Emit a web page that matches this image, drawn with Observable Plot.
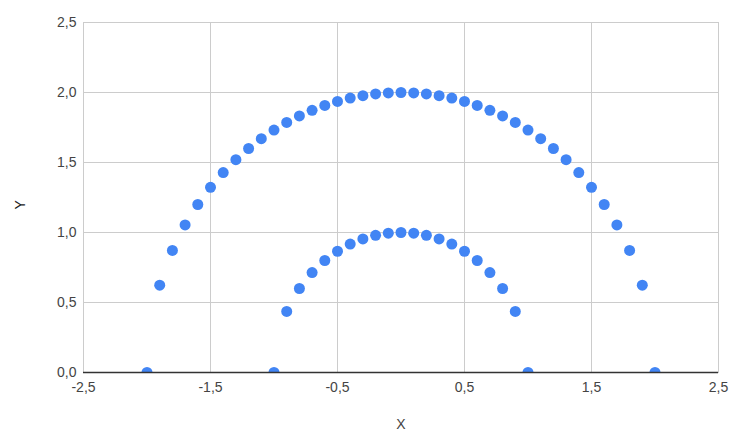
<!DOCTYPE html>
<html>
<head>
<meta charset="utf-8">
<script src="https://cdn.jsdelivr.net/npm/d3@7"></script>
<script src="https://cdn.jsdelivr.net/npm/@observablehq/plot@0.6"></script>
<style>
  body { margin: 0; background: #fff; }
  #chart { width: 738px; height: 442px; }
</style>
</head>
<body>
<div id="chart"></div>
<script>
const outerX = [-2.0,-1.9,-1.8,-1.7,-1.6,-1.5,-1.4,-1.3,-1.2,-1.1,-1.0,-0.9,-0.8,-0.7,-0.6,-0.5,-0.4,-0.3,-0.2,-0.1,0.0,0.1,0.2,0.3,0.4,0.5,0.6,0.7,0.8,0.9,1.0,1.1,1.2,1.3,1.4,1.5,1.6,1.7,1.8,1.9,2.0];
const outerY = [0,0.624,0.872,1.054,1.2,1.323,1.428,1.52,1.6,1.67,1.732,1.786,1.833,1.873,1.908,1.936,1.96,1.977,1.99,1.997,2.0,1.997,1.99,1.977,1.96,1.936,1.908,1.873,1.833,1.786,1.732,1.67,1.6,1.52,1.428,1.323,1.2,1.054,0.872,0.624,0];
const innerX = [-1.0,-0.9,-0.8,-0.7,-0.6,-0.5,-0.4,-0.3,-0.2,-0.1,0.0,0.1,0.2,0.3,0.4,0.5,0.6,0.7,0.8,0.9,1.0];
const innerY = [0,0.436,0.6,0.714,0.8,0.866,0.917,0.954,0.98,0.995,1.0,0.995,0.98,0.954,0.917,0.866,0.8,0.714,0.6,0.436,0];
const xTicks = [-2.5,-1.5,-0.5,0.5,1.5,2.5];
const yTicks = [0,0.5,1.0,1.5,2.0,2.5];
const xLabel = "X";
const yLabel = "Y";

const points = [
  ...outerX.map((x, i) => ({x, y: outerY[i]})),
  ...innerX.map((x, i) => ({x, y: innerY[i]}))
];
const fmt = d => d3.format(".1f")(d).replace(".", ",").replace("−", "-");

const chart = Plot.plot({
  width: 738,
  height: 442,
  marginLeft: 83,
  marginRight: 20,
  marginTop: 22,
  marginBottom: 70,
  style: {fontFamily: "Arial, 'Liberation Sans', sans-serif", fontSize: "14px", color: "#444", background: "#fff"},
  x: {domain: [-2.5, 2.5]},
  y: {domain: [0, 2.5]},
  marks: [
    Plot.gridX(xTicks, {stroke: "#ccc", strokeOpacity: 1}),
    Plot.gridY(yTicks, {stroke: "#ccc", strokeOpacity: 1}),
    Plot.frame({stroke: "#ccc"}),
    Plot.dot(points, {x: "x", y: "y", r: 5.5, fill: "#4285F4", stroke: "none", clip: "frame"}),
    Plot.ruleY([0], {stroke: "#333", strokeWidth: 1.5}),
    Plot.axisX(xTicks, {tickSize: 0, tickPadding: 10, tickFormat: fmt, fill: "#444", label: xLabel, labelAnchor: "center", labelArrow: "none", labelOffset: 56, fontSize: 14}),
    Plot.axisY(yTicks, {tickSize: 0, tickPadding: 7, tickFormat: fmt, fill: "#444", label: null, fontSize: 14}),
    Plot.text([yLabel], {frameAnchor: "left", dx: -63, dy: 12, rotate: -90, fill: "#222", fontSize: 14, text: d => d})
  ]
});
document.getElementById("chart").appendChild(chart);
</script>
</body>
</html>
